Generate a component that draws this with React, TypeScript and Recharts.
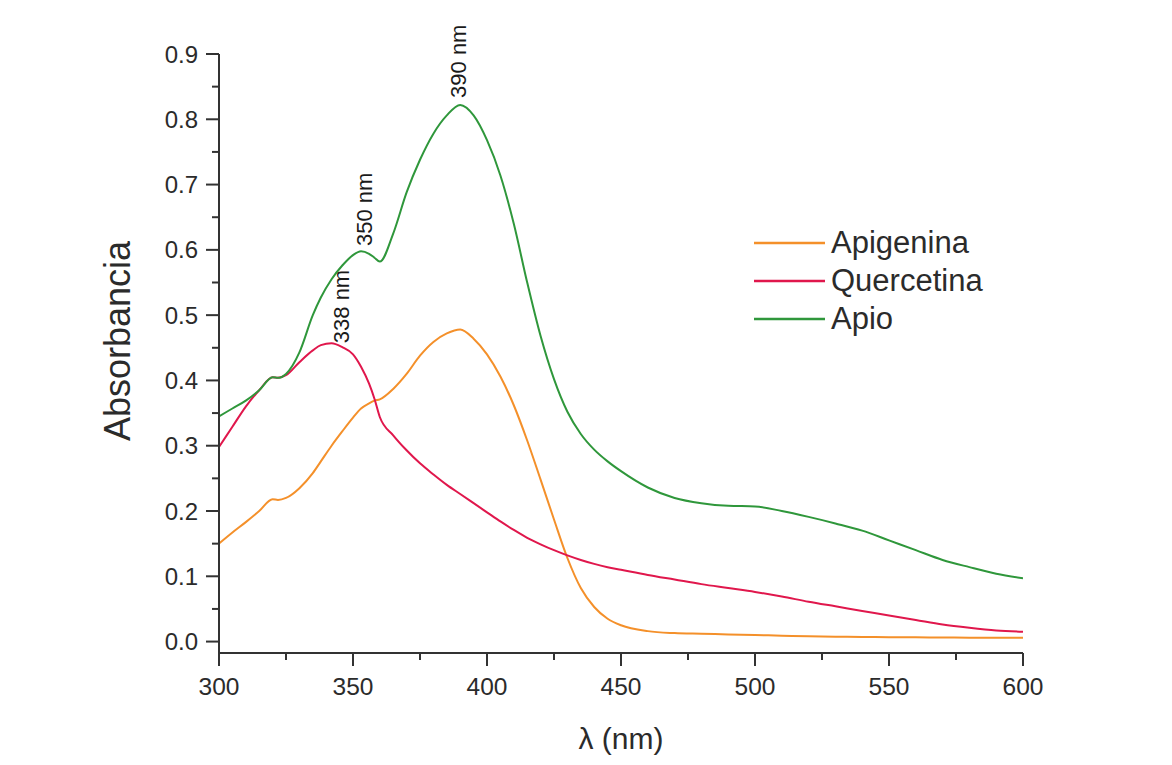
import React from 'react';
import { LineChart, Line, XAxis, YAxis, Legend, ReferenceDot, Label } from 'recharts';

// wavelength grid (nm) shared by the three spectra
const wavelengths = [
  300, 305, 310, 315, 320, 322, 325, 330, 335, 338, 342, 346, 350, 353, 356, 358, 360,
  365, 370, 375, 380, 385, 390, 395, 400, 405, 410, 415, 420, 425, 430, 435, 440, 445, 450,
  460, 470, 480, 490, 500, 510, 520, 530, 540, 550, 560, 570, 580, 590, 600,
];

const apigenina = [
  0.150, 0.167, 0.183, 0.200, 0.218, 0.217, 0.220, 0.235, 0.258, 0.276, 0.300, 0.322, 0.343, 0.357, 0.365, 0.369, 0.371,
  0.387, 0.410, 0.438, 0.459, 0.472, 0.478, 0.464, 0.440, 0.406, 0.362, 0.308, 0.248, 0.187, 0.128, 0.082, 0.053, 0.035, 0.025,
  0.016, 0.013, 0.012, 0.011, 0.010, 0.009, 0.008, 0.0075, 0.007, 0.0068, 0.0065, 0.0063, 0.006, 0.006, 0.006,
];

const quercetina = [
  0.298, 0.329, 0.360, 0.385, 0.405, 0.404, 0.408, 0.428, 0.446, 0.454, 0.457, 0.451, 0.440, 0.421, 0.395, 0.372, 0.344,
  0.316, 0.293, 0.273, 0.256, 0.240, 0.226, 0.212, 0.198, 0.184, 0.171, 0.159, 0.149, 0.140, 0.132, 0.125, 0.119, 0.114, 0.110,
  0.102, 0.095, 0.088, 0.082, 0.076, 0.069, 0.061, 0.054, 0.047, 0.040, 0.033, 0.026, 0.021, 0.017, 0.015,
];

const apio = [
  0.345, 0.357, 0.369, 0.385, 0.405, 0.404, 0.410, 0.443, 0.500, 0.527, 0.555, 0.576, 0.592, 0.598, 0.594, 0.588, 0.582,
  0.625, 0.688, 0.738, 0.778, 0.806, 0.822, 0.806, 0.768, 0.714, 0.640, 0.550, 0.468, 0.402, 0.352, 0.318, 0.294, 0.276, 0.261,
  0.236, 0.220, 0.212, 0.208, 0.207, 0.200, 0.191, 0.181, 0.170, 0.155, 0.140, 0.125, 0.114, 0.104, 0.097,
];

const seriesOrder = ['Apigenina', 'Quercetina', 'Apio'];

const xTicks = [300, 325, 350, 375, 400, 425, 450, 475, 500, 525, 550, 575, 600];
const yTicks = [0, 0.05, 0.1, 0.15, 0.2, 0.25, 0.3, 0.35, 0.4, 0.45, 0.5, 0.55, 0.6, 0.65, 0.7, 0.75, 0.8, 0.85, 0.9];

// peak annotations: wavelength, which series, text offset in px
const peaks = [
  { wl: 338, key: 'quercetina', value: 0.454, dx: 21, gap: 2 },
  { wl: 350, key: 'apio', value: 0.592, dx: 12, gap: 9 },
  { wl: 390, key: 'apio', value: 0.822, dx: -2, gap: 7 },
];

const data = wavelengths.map((wl, i) => ({
  wl,
  apigenina: apigenina[i],
  quercetina: quercetina[i],
  apio: apio[i],
}));

const FONT = '"Liberation Sans", Arial, sans-serif';
const AXIS = '#333333';
const TEXT = '#2b2b2b';
const ORANGE = '#f4902a';
const RED = '#e0174c';
const GREEN = '#2f973b';

const YTick = (props: any) => {
  const { x, y, payload } = props;
  const major = Math.round(payload.value * 100) % 10 === 0;
  return (
    <g>
      <line x1={x - (major ? 13 : 7)} x2={x} y1={y} y2={y} stroke={AXIS} strokeWidth={2} />
      {major && (
        <text x={x - 21} y={y} textAnchor="end" dominantBaseline="central" fontSize={24} fontFamily={FONT} fill={TEXT}>
          {payload.value.toFixed(1)}
        </text>
      )}
    </g>
  );
};

const XTick = (props: any) => {
  const { x, y, payload } = props;
  const major = payload.value % 50 === 0;
  return (
    <g>
      <line x1={x} x2={x} y1={y} y2={y + (major ? 13 : 7)} stroke={AXIS} strokeWidth={2} />
      {major && (
        <text x={x} y={y + 33} textAnchor="middle" dominantBaseline="central" fontSize={24.5} fontFamily={FONT} fill={TEXT}>
          {payload.value}
        </text>
      )}
    </g>
  );
};

const renderLegend = (props: any) => {
  const items = [...(props.payload || [])].sort(
    (a: any, b: any) => seriesOrder.indexOf(a.value) - seriesOrder.indexOf(b.value)
  );
  return (
    <div style={{ fontFamily: FONT }}>
      {items.map((entry: any) => (
        <div key={entry.value} style={{ display: 'flex', alignItems: 'center', height: 38 }}>
          <svg width={71} height={6} style={{ marginRight: 6 }}>
            <line x1={0} x2={71} y1={3} y2={3} stroke={entry.color} strokeWidth={2.5} />
          </svg>
          <span style={{ fontSize: 31, color: TEXT }}>{entry.value}</span>
        </div>
      ))}
    </div>
  );
};

const PeakLabel = ({ text, dx, gap }: { text: string; dx: number; gap: number }) => (props: any) => {
  const { viewBox } = props;
  const x = viewBox.x + dx;
  const y = viewBox.y - gap;
  return (
    <text
      x={x}
      y={y}
      transform={`rotate(-90, ${x}, ${y})`}
      textAnchor="start"
      dominantBaseline="central"
      fontSize={22}
      fontFamily={FONT}
      fill="#1a1a1a"
    >
      {text}
    </text>
  );
};

export default function App() {
  return (
    <div style={{ position: 'absolute', left: 0, top: 0, background: '#fff' }}>
      <LineChart width={1172} height={765} data={data} margin={{ top: 54, right: 149, left: 0, bottom: 0 }}>
        <XAxis
          dataKey="wl"
          type="number"
          domain={[300, 600]}
          ticks={xTicks}
          interval={0}
          height={112}
          tickSize={0}
          tickMargin={0}
          tickLine={false}
          tick={<XTick />}
          axisLine={{ stroke: AXIS, strokeWidth: 2 }}
          allowDataOverflow
        >
          <Label
            content={() => (
              <text x={621} y={738} textAnchor="middle" dominantBaseline="central" fontSize={30} fontFamily={FONT} fill={TEXT}>
                λ (nm)
              </text>
            )}
          />
        </XAxis>
        <YAxis
          type="number"
          domain={[-0.0175, 0.9]}
          ticks={yTicks}
          interval={0}
          width={219}
          tickSize={0}
          tickMargin={0}
          tickLine={false}
          tick={<YTick />}
          axisLine={{ stroke: AXIS, strokeWidth: 2 }}
          allowDataOverflow
        >
          <Label
            content={() => (
              <text
                x={117}
                y={341}
                transform="rotate(-90, 117, 341)"
                textAnchor="middle"
                dominantBaseline="central"
                fontSize={36}
                fontFamily={FONT}
                fill={TEXT}
              >
                Absorbancia
              </text>
            )}
          />
        </YAxis>
        <Legend
          layout="vertical"
          align="center"
          verticalAlign="middle"
          content={renderLegend}
          wrapperStyle={{ left: 754, top: 224, width: 260 }}
        />
        <Line name="Apigenina" dataKey="apigenina" type="monotone" stroke={ORANGE} strokeWidth={2} dot={false} isAnimationActive={false} />
        <Line name="Quercetina" dataKey="quercetina" type="monotone" stroke={RED} strokeWidth={2} dot={false} isAnimationActive={false} />
        <Line name="Apio" dataKey="apio" type="monotone" stroke={GREEN} strokeWidth={2} dot={false} isAnimationActive={false} />
        {peaks.map((p) => (
          <ReferenceDot
            key={p.wl}
            x={p.wl}
            y={p.value}
            r={0}
            fill="none"
            stroke="none"
            label={PeakLabel({ text: `${p.wl} nm`, dx: p.dx, gap: p.gap })}
          />
        ))}
      </LineChart>
    </div>
  );
}
